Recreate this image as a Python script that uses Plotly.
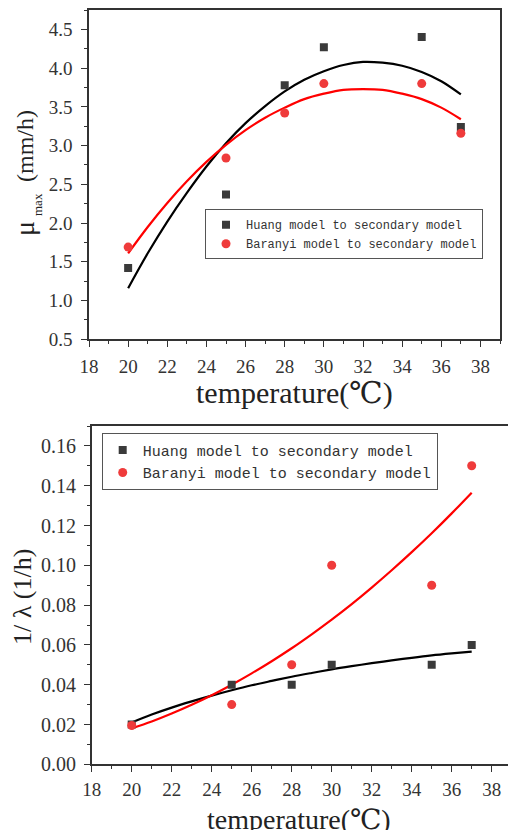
import plotly.graph_objects as go

# ---------------- data ----------------
temps = [20, 25, 28, 30, 35, 37]
mu_huang = [1.42, 2.37, 3.78, 4.27, 4.40, 3.24]
mu_baranyi = [1.69, 2.84, 3.42, 3.80, 3.80, 3.16]

fit_temps = [20, 21, 22, 23, 24, 25, 26, 27, 28, 29, 30, 31, 32, 33, 34, 35, 36, 37]
mu_huang_fit = [1.16, 1.61, 2.02, 2.39, 2.73, 3.03, 3.29, 3.51, 3.70, 3.85,
                3.96, 4.04, 4.08, 4.07, 4.03, 3.95, 3.83, 3.66]
mu_baranyi_fit = [1.61, 1.95, 2.26, 2.54, 2.79, 3.01, 3.20, 3.36, 3.49, 3.60,
                  3.67, 3.72, 3.73, 3.72, 3.67, 3.60, 3.49, 3.34]

lam_huang = [0.020, 0.040, 0.040, 0.050, 0.050, 0.060]
lam_baranyi = [0.0195, 0.030, 0.050, 0.100, 0.090, 0.150]
lam_huang_fit = [0.0210, 0.0250, 0.0285, 0.0316, 0.0345, 0.0372, 0.0397, 0.0419, 0.0440,
                 0.0459, 0.0477, 0.0493, 0.0508, 0.0522, 0.0535, 0.0547, 0.0557, 0.0566]
lam_baranyi_fit = [0.0180, 0.0215, 0.0255, 0.0299, 0.0347, 0.0400, 0.0457, 0.0518, 0.0583,
                   0.0653, 0.0727, 0.0805, 0.0888, 0.0975, 0.1066, 0.1161, 0.1261, 0.1365]

x_ticks = [18, 20, 22, 24, 26, 28, 30, 32, 34, 36, 38]
mu_ticks = [0.5, 1.0, 1.5, 2.0, 2.5, 3.0, 3.5, 4.0, 4.5]
lam_ticks = [0.00, 0.02, 0.04, 0.06, 0.08, 0.10, 0.12, 0.14, 0.16]

name_huang = "Huang model to secondary model"
name_baranyi = "Baranyi model to secondary model"
x_title = "temperature(℃)"
mu_symbol = "μ"
mu_sub = "max"
mu_unit = "(mm/h)"
lam_title = "1/ λ (1/h)"

FONT = "Liberation Serif, DejaVu Serif, serif"
LFONT = "Liberation Mono, DejaVu Sans Mono, monospace"
AX = "#333333"
SQ = "#3a3a3a"
RD = "#ef3b3b"

W, H = 508, 830

fig = go.Figure()

# ---- top panel ----
fig.add_trace(go.Scatter(x=fit_temps, y=mu_huang_fit, mode="lines", line=dict(color="#000000", width=2.2, shape="spline"),
                         showlegend=False, xaxis="x", yaxis="y"))
fig.add_trace(go.Scatter(x=fit_temps, y=mu_baranyi_fit, mode="lines", line=dict(color="#ff0000", width=2.2, shape="spline"),
                         showlegend=False, xaxis="x", yaxis="y"))
fig.add_trace(go.Scatter(x=temps, y=mu_huang, mode="markers", name=name_huang,
                         marker=dict(symbol="square", size=8, color=SQ), xaxis="x", yaxis="y", legend="legend"))
fig.add_trace(go.Scatter(x=temps, y=mu_baranyi, mode="markers", name=name_baranyi,
                         marker=dict(symbol="circle", size=9, color=RD), xaxis="x", yaxis="y", legend="legend"))

# ---- bottom panel ----
fig.add_trace(go.Scatter(x=fit_temps, y=lam_huang_fit, mode="lines", line=dict(color="#000000", width=2.2, shape="spline"),
                         showlegend=False, xaxis="x2", yaxis="y2"))
fig.add_trace(go.Scatter(x=fit_temps, y=lam_baranyi_fit, mode="lines", line=dict(color="#ff0000", width=2.2, shape="spline"),
                         showlegend=False, xaxis="x2", yaxis="y2"))
fig.add_trace(go.Scatter(x=temps, y=lam_huang, mode="markers", name=name_huang,
                         marker=dict(symbol="square", size=8, color=SQ), xaxis="x2", yaxis="y2", legend="legend2"))
fig.add_trace(go.Scatter(x=temps, y=lam_baranyi, mode="markers", name=name_baranyi,
                         marker=dict(symbol="circle", size=9, color=RD), xaxis="x2", yaxis="y2", legend="legend2"))


def axis(domain, rng, tickvals, fmt, size, minor_dtick, mirror, anchor, standoff):
    return dict(domain=domain, range=rng, tickvals=tickvals, tickformat=fmt, automargin=False,
                showgrid=False, zeroline=False, showline=True, linecolor=AX, linewidth=1.5,
                mirror=mirror, ticks="outside", ticklen=6, tickwidth=1.3, tickcolor=AX,
                minor=dict(ticks="outside", ticklen=3, tickwidth=1.2, tickcolor=AX, dtick=minor_dtick, showgrid=False),
                tickfont=dict(family=FONT, size=size, color="#333333"), anchor=anchor,
                ticklabelstandoff=standoff)


fig.update_layout(
    width=W, height=H,
    margin=dict(l=0, r=0, t=0, b=0),
    paper_bgcolor="white", plot_bgcolor="white",
    xaxis=axis([89 / W, 500 / W], [18, 39], x_ticks, "d", 19, 1, True, "y", 3),
    yaxis=axis([1 - 339.3 / H, 1 - 10 / H], [0.5, 4.75], mu_ticks, ".1f", 19, 0.25, True, "x", 5),
    xaxis2=axis([91.7 / W, 1.0], [18, 38.815], x_ticks, "d", 19, 1, True, "y2", 1),
    yaxis2=axis([1 - 764.3 / H, 1 - 426 / H], [0, 0.17], lam_ticks, ".2f", 20, 0.01, False, "x2", 4),
    legend=dict(x=205 / W, y=1 - 209.3 / H, xanchor="left", yanchor="top",
                bordercolor="#555555", borderwidth=1, bgcolor="white",
                font=dict(family=LFONT, size=12, color="#333333"), tracegroupgap=0),
    legend2=dict(x=101.7 / W, y=1 - 432.7 / H, xanchor="left", yanchor="top",
                 bordercolor="#555555", borderwidth=1, bgcolor="white",
                 font=dict(family=LFONT, size=15, color="#333333"), tracegroupgap=0),
    showlegend=True,
)

ann_font = dict(family=FONT, color="#222222")


def ann(text, x, y, size, angle=0):
    fig.add_annotation(text=text, x=x / W, y=1 - y / H, xref="paper", yref="paper", textangle=angle,
                       xanchor="center", yanchor="middle", showarrow=False, font=dict(size=size, **ann_font))


ann(x_title, 294, 393, 30)
ann(x_title, 299, 819, 28)
ann(mu_unit, 25, 146, 24, -90)
ann(mu_sub, 38, 205, 13, -90)
ann(mu_symbol, 25, 229, 28, -90)
ann(lam_title, 22, 597, 26, -90)

fig.write_html("out.html", config={"displayModeBar": False},
               post_script="document.body.style.margin='0px';")
